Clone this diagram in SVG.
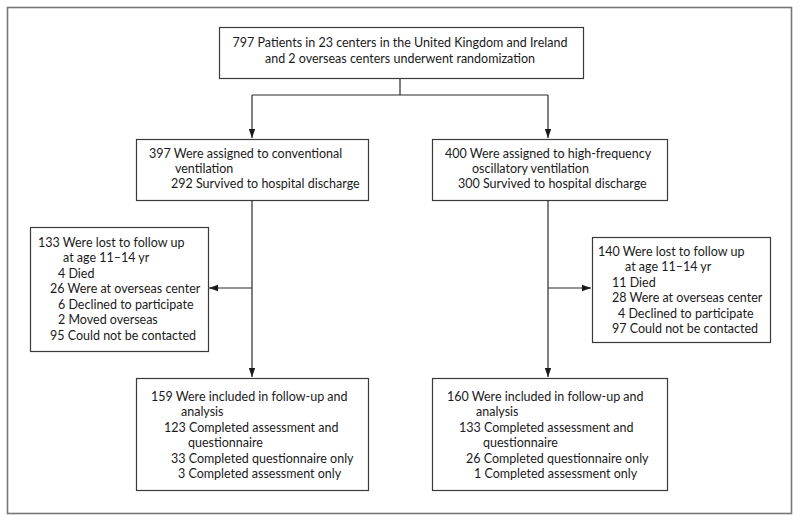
<svg xmlns="http://www.w3.org/2000/svg" width="800" height="520" viewBox="0 0 800 520">
<defs>
<style>
.box{fill:#fff;stroke:#3a3a3a;stroke-width:1.2}
.frame{fill:#fff;stroke:#777;stroke-width:1.6}
.t{font-family:Lato,"Open Sans","Liberation Sans",sans-serif;font-size:12.5px;fill:#1a1a1a}
.c{fill:none;stroke:#2a2a2a;stroke-width:1.2}
</style>
<marker id="ah" markerWidth="10" markerHeight="8" refX="9" refY="4" orient="auto" markerUnits="userSpaceOnUse">
<path d="M0,0.8 L9,4 L0,7.2 Z" fill="#1a1a1a"/>
</marker>
</defs>
<rect class="frame" x="7.5" y="7.5" width="784" height="506"/>
<g id="connectors">
<path class="c" d="M400,78 V95 M252,95 H548"/>
<path class="c" d="M252,95 V138" marker-end="url(#ah)"/>
<path class="c" d="M548,95 V138" marker-end="url(#ah)"/>
<path class="c" d="M252,200 V377" marker-end="url(#ah)"/>
<path class="c" d="M548,200 V377" marker-end="url(#ah)"/>
<path class="c" d="M252,288 H209" marker-end="url(#ah)"/>
<path class="c" d="M548,288 H591" marker-end="url(#ah)"/>
</g>
<g id="randomized">
<rect class="box" x="219.5" y="27.5" width="364" height="51"/>
<text class="t" x="400" y="47" text-anchor="middle">797 Patients in 23 centers in the United Kingdom and Ireland</text>
<text class="t" x="400" y="63" text-anchor="middle">and 2 overseas centers underwent randomization</text>
</g>
<g id="conventional">
<rect class="box" x="136.5" y="139.5" width="232" height="61"/>
<text class="t" x="149" y="158">397 Were assigned to conventional</text>
<text class="t" x="175" y="173">ventilation</text>
<text class="t" x="171" y="188">292 Survived to hospital discharge</text>
</g>
<g id="hfov">
<rect class="box" x="432.5" y="139.5" width="235" height="61"/>
<text class="t" x="445" y="158">400 Were assigned to high-frequency</text>
<text class="t" x="472" y="173">oscillatory ventilation</text>
<text class="t" x="458" y="188">300 Survived to hospital discharge</text>
</g>
<g id="lost-left">
<rect class="box" x="30.5" y="227.5" width="178" height="124"/>
<text class="t" x="38" y="247">133 Were lost to follow up</text>
<text class="t" x="63" y="262">at age 11–14 yr</text>
<text class="t" x="58" y="278">4 Died</text>
<text class="t" x="50" y="293">26 Were at overseas center</text>
<text class="t" x="58" y="309">6 Declined to participate</text>
<text class="t" x="58" y="324">2 Moved overseas</text>
<text class="t" x="50" y="340">95 Could not be contacted</text>
</g>
<g id="lost-right">
<rect class="box" x="592.5" y="237.5" width="178" height="105"/>
<text class="t" x="598" y="256">140 Were lost to follow up</text>
<text class="t" x="625" y="271">at age 11–14 yr</text>
<text class="t" x="612" y="287">11 Died</text>
<text class="t" x="612" y="302">28 Were at overseas center</text>
<text class="t" x="618" y="318">4 Declined to participate</text>
<text class="t" x="612" y="333">97 Could not be contacted</text>
</g>
<g id="followup-left">
<rect class="box" x="136.5" y="378.5" width="232" height="112"/>
<text class="t" x="151" y="401">159 Were included in follow-up and</text>
<text class="t" x="181" y="416">analysis</text>
<text class="t" x="164" y="432">123 Completed assessment and</text>
<text class="t" x="188" y="447">questionnaire</text>
<text class="t" x="171" y="463">33 Completed questionnaire only</text>
<text class="t" x="178" y="478">3 Completed assessment only</text>
</g>
<g id="followup-right">
<rect class="box" x="432.5" y="378.5" width="235" height="112"/>
<text class="t" x="447" y="401">160 Were included in follow-up and</text>
<text class="t" x="476" y="416">analysis</text>
<text class="t" x="459" y="432">133 Completed assessment and</text>
<text class="t" x="483" y="447">questionnaire</text>
<text class="t" x="466" y="463">26 Completed questionnaire only</text>
<text class="t" x="474" y="478">1 Completed assessment only</text>
</g>
</svg>
